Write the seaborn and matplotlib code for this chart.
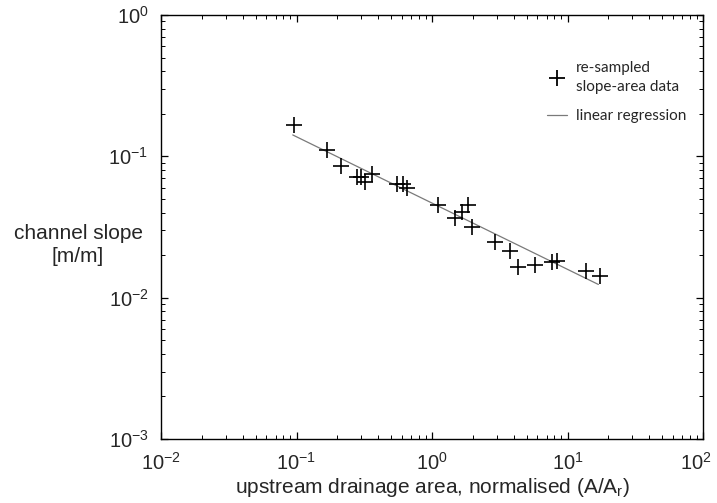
import numpy as np
import pandas as pd
import matplotlib
matplotlib.use("Agg")
import matplotlib.pyplot as plt
import seaborn as sns
from matplotlib.lines import Line2D
from matplotlib.ticker import LogLocator
from matplotlib.transforms import ScaledTranslation

# --- data ---
area = [0.096, 0.167, 0.213, 0.28, 0.30, 0.321, 0.36, 0.548, 0.614, 0.65,
        1.11, 1.48, 1.66, 1.85, 1.96, 2.92, 3.77, 4.33, 5.75, 7.64, 8.32,
        13.7, 17.4]
slope = [0.167, 0.111, 0.0858, 0.0714, 0.0714, 0.066, 0.075, 0.0637, 0.0642,
         0.0594, 0.0452, 0.0364, 0.0405, 0.0452, 0.0314, 0.0249, 0.0214,
         0.01655, 0.0170, 0.01795, 0.0182, 0.0155, 0.0142]
fit_range = [0.0938, 16.9]
fit_coef = 0.0467
fit_exp = -0.469
legend_labels = ["re-sampled\nslope-area data", "linear regression"]
xlabel = "upstream drainage area, normalised (A/A$_\\mathregular{r}$)"
ylabel = "channel slope\n[m/m]"

sns.set_theme(style="ticks")
plt.rcParams["font.family"] = ["Liberation Sans", "DejaVu Sans"]
plt.rcParams["mathtext.fontset"] = "custom"
plt.rcParams["mathtext.rm"] = "Liberation Sans"
plt.rcParams["mathtext.it"] = "Liberation Sans"

FS = 15

fig = plt.figure(figsize=(7.17, 5.03), dpi=100)
ax = fig.add_axes([161 / 717, (503 - 439) / 503, 542 / 717, 424 / 503])

df = pd.DataFrame({"area": area, "slope": slope})
fx = np.array(fit_range)
fit_df = pd.DataFrame({"area": fx, "slope": fit_coef * fx ** fit_exp})

sns.lineplot(data=fit_df, x="area", y="slope", ax=ax, color="#7a7a7a",
             linewidth=0.9, legend=False)
sns.scatterplot(data=df, x="area", y="slope", ax=ax, marker="+", s=130,
                color="black", linewidth=1.2, legend=False, zorder=3)

ax.set_xscale("log")
ax.set_yscale("log")
ax.set_xlim(1e-2, 1e2)
ax.set_ylim(1e-3, 1e0)
ax.xaxis.set_major_locator(LogLocator(base=10, numticks=10))
ax.yaxis.set_major_locator(LogLocator(base=10, numticks=10))
ax.xaxis.set_minor_locator(LogLocator(base=10, subs=np.arange(2, 10), numticks=20))
ax.yaxis.set_minor_locator(LogLocator(base=10, subs=np.arange(2, 10), numticks=20))

for s in ax.spines.values():
    s.set_visible(True)
    s.set_color("black")
    s.set_linewidth(1.0)

ax.tick_params(which="both", direction="in", top=True, right=True, color="black")
ax.tick_params(which="major", length=5, width=0.9, labelsize=14.5, pad=9)
ax.tick_params(which="minor", length=3, width=0.7)

ax.set_xlabel(xlabel, fontsize=FS, labelpad=2)
ax.set_ylabel("")
fig.text(78 / 717, 1 - 245 / 503, ylabel, ha="center", va="center",
         fontsize=FS, linespacing=1.3)

handles = [Line2D([], [], color="black", marker="+", linestyle="none",
                  markersize=12, markeredgewidth=1.3),
           Line2D([], [], color="#7a7a7a", linewidth=0.9)]
leg = ax.legend(handles, legend_labels, loc="upper left",
                bbox_to_anchor=(380 / 542, 1 - 40 / 424), frameon=False,
                prop={"family": "Lato", "size": 11}, handlelength=1.3,
                handletextpad=0.6, labelspacing=1.0, borderaxespad=0)
for t in leg.get_texts():
    t.set_linespacing(1.45)

# nudge the rightmost x tick label so it stays inside the canvas
fig.canvas.draw()
for tick in ax.xaxis.get_major_ticks():
    if np.isclose(tick.get_loc(), 100):
        lab = tick.label1
        lab.set_transform(lab.get_transform() +
                          ScaledTranslation(-5 / 72, 0, fig.dpi_scale_trans))

fig.savefig("out.png", dpi=100)
